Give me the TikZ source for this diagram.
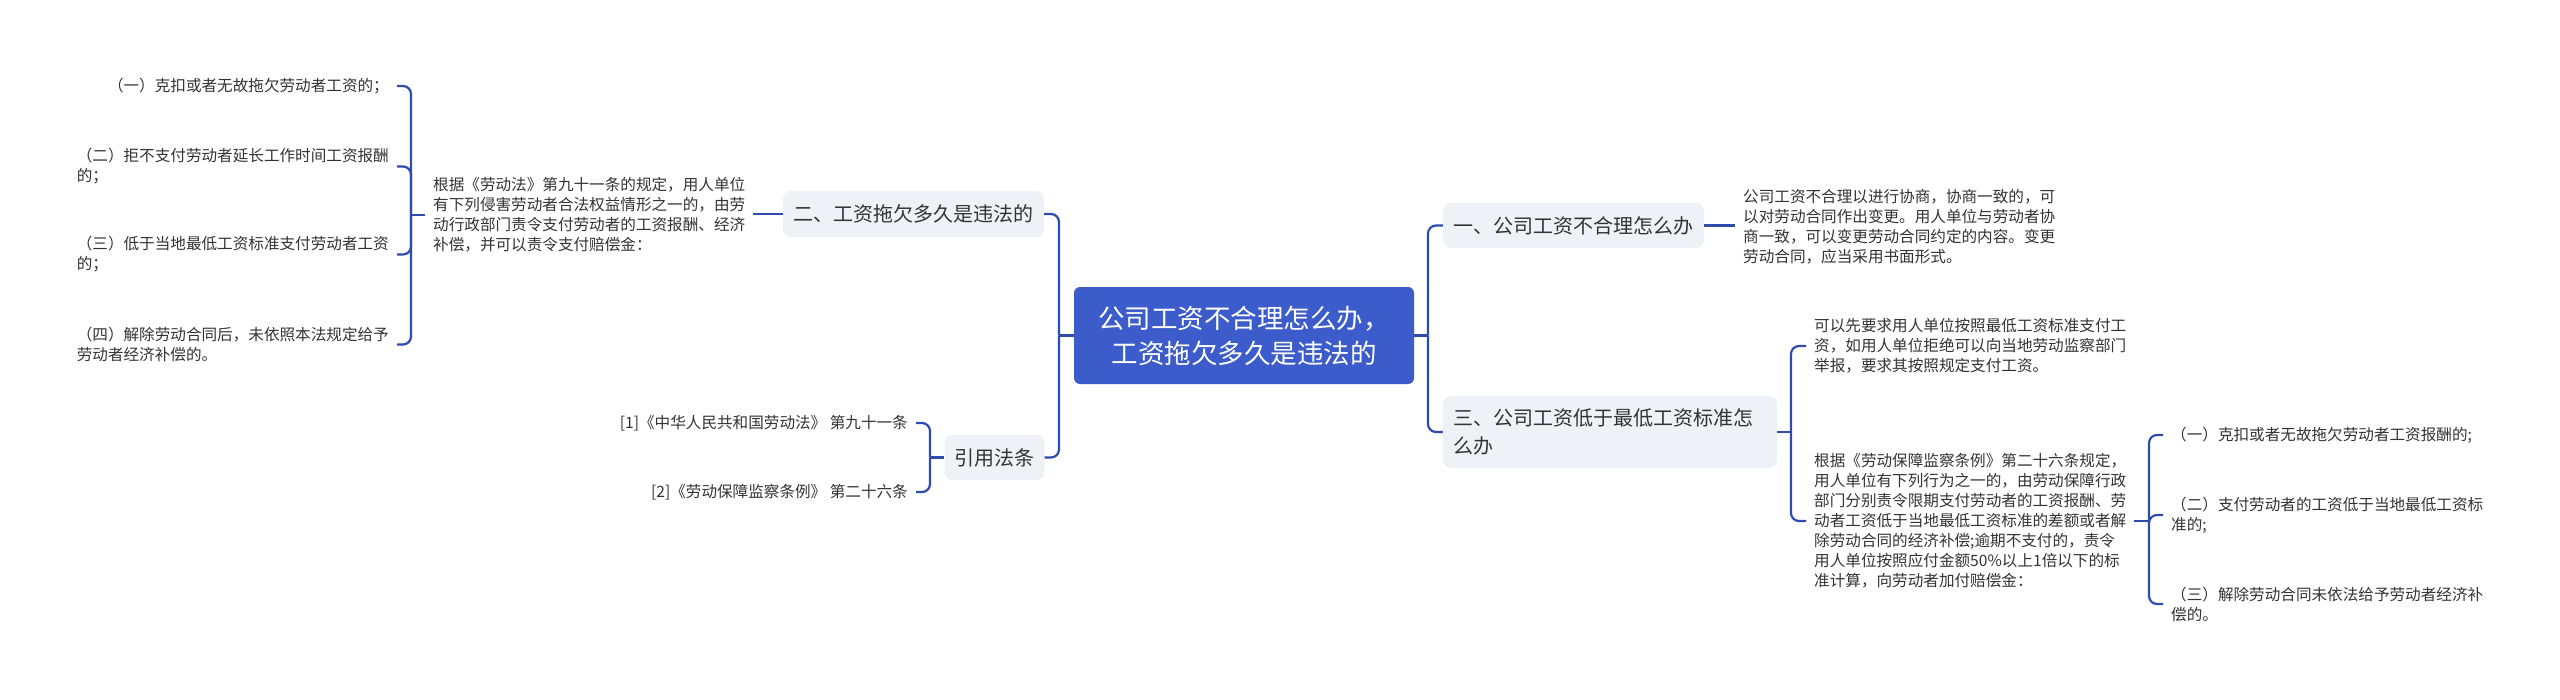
\documentclass[tikz,border=0pt]{standalone}
\usepackage{fontspec}
\setmainfont{Noto Sans CJK SC}
\definecolor{lineblue}{RGB}{46,76,176}
\definecolor{rootblue}{RGB}{60,92,204}
\definecolor{graybox}{RGB}{238,241,245}
\definecolor{txt}{RGB}{51,51,51}
\tikzset{
  conn/.style={draw=lineblue, line width=2.2pt, rounded corners=8pt},
  rootbox/.style={fill=rootblue, draw=none, rounded corners=6pt, text=white,
    align=center, inner sep=0pt, minimum width=340pt, minimum height=97pt,
    font=\fontsize{26.5}{35}\selectfont},
  gbox/.style={fill=graybox, draw=none, rounded corners=8pt, text=txt,
    align=left, inner xsep=10pt, inner ysep=0pt,
    font=\fontsize{20}{28}\selectfont},
  detail/.style={text=txt, align=left, inner xsep=8pt, inner ysep=0pt,
    font=\fontsize{15.6}{20}\selectfont},
  cite/.style={text=txt, align=left, inner xsep=8pt, inner ysep=0pt,
    font=\fontsize{15.6}{20}\selectfont}
}
\begin{document}
\begin{tikzpicture}[x=1pt,y=-1pt]
\useasboundingbox[fill=white] (0,0) rectangle (2560,699);

% root
\node[rootbox] (root) at (1244,335.5) {公司工资不合理怎么办，\\工资拖欠多久是违法的};

% left main branches
\node[gbox, minimum width=261pt, minimum height=46pt] (b2) at (913.5,214) {二、工资拖欠多久是违法的};
\node[gbox, minimum width=99pt, minimum height=45pt] (b4) at (994.5,457.5) {引用法条};

% right main branches
\node[gbox, minimum width=261pt, minimum height=45pt] (b1) at (1573.5,225.5) {一、公司工资不合理怎么办};
\node[gbox, text width=314pt, minimum height=72pt] (b3) at (1610,432) {三、公司工资低于最低工资标准怎\\么办};

% left details
\node[detail, anchor=west] (t2L) at (425,215) {根据《劳动法》第九十一条的规定，用人单位\\有下列侵害劳动者合法权益情形之一的，由劳\\动行政部门责令支付劳动者的工资报酬、经济\\补偿，并可以责令支付赔偿金：};

\node[detail, anchor=east] (i1) at (397,86) {（一）克扣或者无故拖欠劳动者工资的；};
\node[detail, anchor=east] (i2) at (397,166.5) {（二）拒不支付劳动者延长工作时间工资报酬\\的；};
\node[detail, anchor=east] (i3) at (397,254.5) {（三）低于当地最低工资标准支付劳动者工资\\的；};
\node[detail, anchor=east] (i4) at (397,344.5) {（四）解除劳动合同后，未依照本法规定给予\\劳动者经济补偿的。};

\node[cite, anchor=east] (c1) at (916,423) {[1]《中华人民共和国劳动法》 第九十一条};
\node[cite, anchor=east] (c2) at (916,492) {[2]《劳动保障监察条例》 第二十六条};

% right details
\node[detail, anchor=west] (t1) at (1735,227) {公司工资不合理以进行协商，协商一致的，可\\以对劳动合同作出变更。用人单位与劳动者协\\商一致，可以变更劳动合同约定的内容。变更\\劳动合同，应当采用书面形式。};

\node[detail, anchor=west] (t3a) at (1806,346) {可以先要求用人单位按照最低工资标准支付工\\资，如用人单位拒绝可以向当地劳动监察部门\\举报，要求其按照规定支付工资。};
\node[detail, anchor=west] (t3b) at (1806,521) {根据《劳动保障监察条例》第二十六条规定，\\用人单位有下列行为之一的，由劳动保障行政\\部门分别责令限期支付劳动者的工资报酬、劳\\动者工资低于当地最低工资标准的差额或者解\\除劳动合同的经济补偿;逾期不支付的，责令\\用人单位按照应付金额50\%以上1倍以下的标\\准计算，向劳动者加付赔偿金：};

\node[detail, anchor=west] (g1) at (2163,435) {（一）克扣或者无故拖欠劳动者工资报酬的;};
\node[detail, anchor=west] (g2) at (2163,515) {（二）支付劳动者的工资低于当地最低工资标\\准的;};
\node[detail, anchor=west] (g3) at (2163,604) {（三）解除劳动合同未依法给予劳动者经济补\\偿的。};

% trunk coordinates
\coordinate (tL) at (1059,335.5);
\coordinate (tR) at (1428,335.5);
\coordinate (tI) at (411,215);
\coordinate (tC) at (930,457.5);
\coordinate (tS) at (1791,432);
\coordinate (tG) at (2149,521);

% connectors
\draw[conn] (root.west) -- (tL);
\draw[conn] (tL) |- (b2.east);
\draw[conn] (tL) |- (b4.east);
\draw[conn] (root.east) -- (tR);
\draw[conn] (tR) |- (b1.west);
\draw[conn] (tR) |- (b3.west);

\draw[conn] (b2.west) -- (b2.west -| t2L.east);
\draw[conn] (t2L.west) -- (tI);
\draw[conn] (tI) |- (i1.east);
\draw[conn] (tI) |- (i2.east);
\draw[conn] (tI) |- (i3.east);
\draw[conn] (tI) |- (i4.east);

\draw[conn] (b4.west) -- (tC);
\draw[conn] (tC) |- (c1.east);
\draw[conn] (tC) |- (c2.east);

\draw[conn] (b1.east) -- (b1.east -| t1.west);

\draw[conn] (b3.east) -- (tS);
\draw[conn] (tS) |- (t3a.west);
\draw[conn] (tS) |- (t3b.west);

\draw[conn] (t3b.east) -- (tG);
\draw[conn] (tG) |- (g1.west);
\draw[conn] (tG) |- (g2.west);
\draw[conn] (tG) |- (g3.west);
\end{tikzpicture}
\end{document}
